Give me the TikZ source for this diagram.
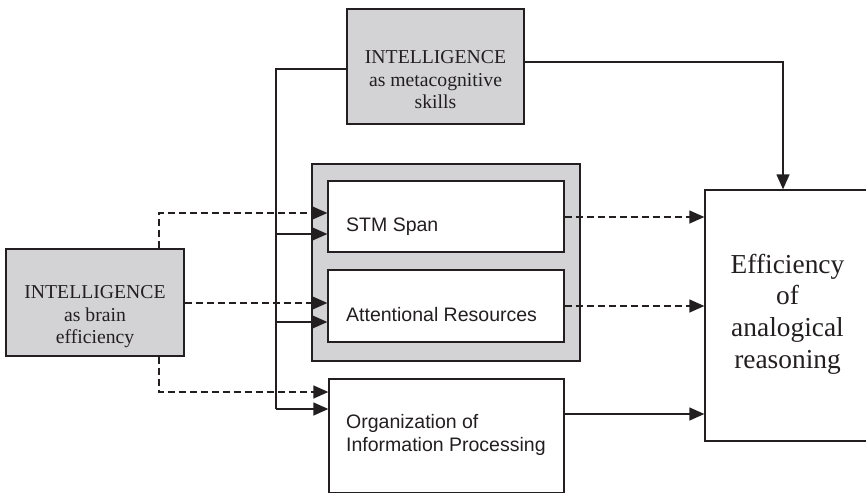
\documentclass[tikz,border=0pt]{standalone}
\usepackage{fontspec}
\setmainfont{Liberation Serif}
\setsansfont{Liberation Sans}
\usetikzlibrary{arrows.meta,calc}
\definecolor{boxgray}{RGB}{211,211,213}
\definecolor{inkline}{RGB}{35,31,32}
\begin{document}
\begin{tikzpicture}[x=1pt,y=-1pt,
  box/.style={draw=inkline,line width=1.3pt,inner sep=0pt,minimum width=#1},
  graybox/.style={box=#1,fill=boxgray},
  whitebox/.style={box=#1,fill=white},
  sertext/.style={font=\fontsize{19.7}{22.5}\selectfont,align=center,text=inkline,inner sep=0pt},
  santext/.style={font=\sffamily\fontsize{19.5}{23}\selectfont,align=left,text=inkline,inner sep=0pt,anchor=west},
  ln/.style={draw=inkline,line width=1.3pt},
  arr/.style={ln,-{Triangle[length=15pt,width=13pt]}},
  darr/.style={arr,dash pattern=on 7pt off 4pt},
]
\useasboundingbox (0,0) rectangle (866,492);

% intelligence boxes
\node[graybox=177pt,minimum height=115pt] (meta) at (435.5,66.5) {};
\node[sertext] (metatext) at (435.5,80) {INTELLIGENCE\\as metacognitive\\skills};
\node[graybox=178pt,minimum height=107pt] (brain) at (95,302.5) {};
\node[sertext] (braintext) at (95,317) {INTELLIGENCE\\as brain\\efficiency};

% working-memory frame with its two components
\node[graybox=268pt,minimum height=197pt] (frame) at (446,262.5) {};
\node[whitebox=236pt,minimum height=71pt] (stm) at (446,216.5) {};
\node[santext] (stmtext) at (346,227) {STM Span};
\node[whitebox=236pt,minimum height=72pt] (att) at (446,306) {};
\node[santext] (atttext) at (346,315) {Attentional Resources};

% organization box, running off the bottom edge
\node[whitebox=235pt,minimum height=114pt] (org) at (446.5,436) {};
\node[santext] (orgtext) at (346,435) {Organization of\\Information Processing};

% outcome box, running off the right edge
\node[whitebox=165pt,minimum height=251pt] (eff) at (787.5,315.5) {};
\node[sertext,font=\fontsize{27.4}{31.7}\selectfont] (efftext) at (787.5,314)
  {Efficiency\\of\\analogical\\reasoning};

% connector end points
\coordinate (stmA) at ($(stm.west)+(0,-3.5)$);
\coordinate (stmB) at ($(stm.west)+(0,17.5)$);
\coordinate (stmC) at ($(stm.east)+(0,0.5)$);
\coordinate (attA) at ($(att.west)+(0,-3)$);
\coordinate (attB) at ($(att.west)+(0,16)$);
\coordinate (orgA) at ($(org.west)+(0,-44)$);
\coordinate (orgB) at ($(org.west)+(0,-27)$);
\coordinate (orgC) at ($(org.east)+(0,-22)$);
\coordinate (metaL) at ($(meta.west)+(0,2.5)$);
\coordinate (metaR) at ($(meta.east)+(0,-4.5)$);
\coordinate (busTop) at (276,69);
\coordinate (busBot) at (busTop |- orgB);
\coordinate (effTop) at (783,0);

% metacognitive skills: bus to the three processes, and direct path
\draw[ln] (metaL) -- (busTop) -- (busBot);
\draw[arr] (stmB -| busTop) -- (stmB);
\draw[arr] (attB -| busTop) -- (attB);
\draw[arr] (busBot) -- (orgB);
\draw[arr] (metaR) -| (effTop |- eff.north);

% brain efficiency: dashed paths
\draw[darr] ($(brain.north)+(64,0)$) |- (stmA);
\draw[darr] (brain.east |- attA) -- (attA);
\draw[darr] ($(brain.south)+(64,0)$) |- (orgA);

% processes to outcome
\draw[darr] (stmC) -- (stmC -| eff.west);
\draw[darr] (att.east) -- (att.east -| eff.west);
\draw[arr] (orgC) -- (orgC -| eff.west);
\end{tikzpicture}
\end{document}
